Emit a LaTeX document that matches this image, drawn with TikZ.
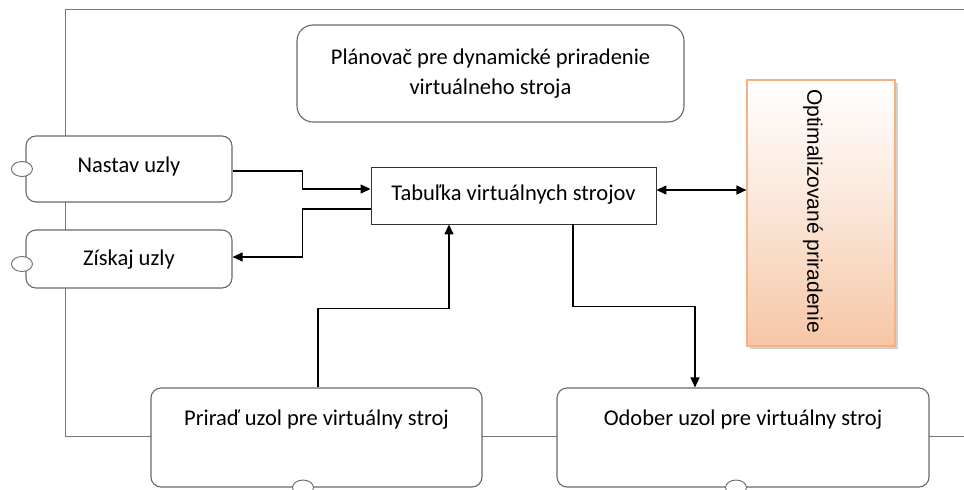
\documentclass[tikz,border=0pt]{standalone}
\usepackage{fontspec}
\setmainfont{Carlito}
\newfontfamily\optfont{Liberation Sans}
\usetikzlibrary{shapes.geometric,arrows.meta,shadows,calc}
\definecolor{boxgray}{RGB}{105,105,105}
\definecolor{framegray}{RGB}{120,120,120}
\definecolor{peach}{RGB}{246,198,165}
\definecolor{peachline}{RGB}{244,177,131}
\tikzset{
  box/.style={draw=boxgray, line width=1.1pt, fill=white, rounded corners=10pt, inner sep=0pt},
  sqbox/.style={draw=black!80, line width=0.9pt, fill=white, inner sep=0pt},
  port/.style={ellipse, draw=boxgray, line width=0.9pt, fill=white, minimum width=21pt, minimum height=15pt, inner sep=0pt},
  frameline/.style={draw=framegray, line width=1pt},
  arr/.style={draw=black, line width=1.3pt, -{Triangle[length=10pt,width=9pt]}},
  dbl/.style={draw=black, line width=1.3pt, {Triangle[length=10pt,width=9pt]}-{Triangle[length=10pt,width=9pt]}},
  txt/.style={font=\fontsize{22.5}{30}\selectfont}
}
\begin{document}
\begin{tikzpicture}[x=1pt,y=-1pt]
\useasboundingbox (0,0) rectangle (964,490);
\clip (0,0) rectangle (964,490);
% frame
\coordinate (ftr) at (964,9);
\coordinate (ftl) at (65,9);
\coordinate (fbl) at (65,436);
\coordinate (fbr) at (964,436);
\draw[frameline] (ftr) -- (ftl) -- (fbl) -- (fbr);
% nodes
\node[box, rounded corners=16pt, minimum width=387pt, minimum height=97pt, align=center, txt] (plan) at (490.5,73.5) {\raisebox{4pt}{\begin{tabular}{@{}c@{}}Plánovač pre dynamické priradenie\\[0pt]virtuálneho stroja\end{tabular}}};
\node[box, minimum width=206pt, minimum height=66pt, label={[txt, yshift=3pt]center:Nastav uzly}] (nastav) at (129,169) {};
\node[box, minimum width=206pt, minimum height=58pt, label={[txt, yshift=-1pt]center:Získaj uzly}] (ziskaj) at (129,259) {};
\node[port] (p1) at ([xshift=-3.5pt]nastav.west) {};
\node[port] (p2) at ([xshift=-3.5pt,yshift=-5pt]ziskaj.west) {};
\node[sqbox, minimum width=285pt, minimum height=57pt, txt] (tab) at (513.5,195.5) {\raisebox{5pt}{Tabuľka virtuálnych strojov}};
\node[draw=peachline, line width=1.2pt, top color=white, bottom color=peach, middle color=peach!45,
      minimum width=148pt, minimum height=266pt, inner sep=0pt,
      general shadow={fill=black!30, shadow xshift=3pt, shadow yshift=-3pt, opacity=0.6}]
      (opt) at (821,213) {};
\node[font=\optfont\fontsize{21}{24}\selectfont, rotate=-90, inner sep=0pt] (optt) at (813,211) {Optimalizované priradenie};
\node[box, minimum width=331pt, minimum height=99pt, label={[txt, anchor=north, yshift=-19pt]north:Priraď uzol pre virtuálny stroj}] (prirad) at (316.5,437.5) {};
\node[box, minimum width=372pt, minimum height=99pt, label={[txt, anchor=north, yshift=-19pt]north:Odober uzol pre virtuálny stroj}] (odober) at (743,437.5) {};
\node[port] (p3) at ([xshift=-13.5pt]prirad.south) {};
\node[port] (p4) at ([xshift=-7pt]odober.south) {};
% connectors
\draw[arr] ([yshift=-2pt]nastav.east) -- ++(70,0) |- ([yshift=6.5pt]tab.west);
\draw[arr] ([yshift=-13.5pt]tab.west) -| ($(ziskaj.east)+(70,-2)$) -- ([yshift=2pt]ziskaj.east);
\draw[arr] ([xshift=1.5pt]prirad.north) -- ++(0,-79) -| ([xshift=-64.5pt]tab.south);
\draw[arr] ([xshift=59.5pt]tab.south) -- ++(0,82) -| ([xshift=-48pt]odober.north);
\draw[dbl] ([yshift=5.5pt]tab.east) -- ([yshift=5.5pt]tab.east -| opt.west);
\end{tikzpicture}
\end{document}
